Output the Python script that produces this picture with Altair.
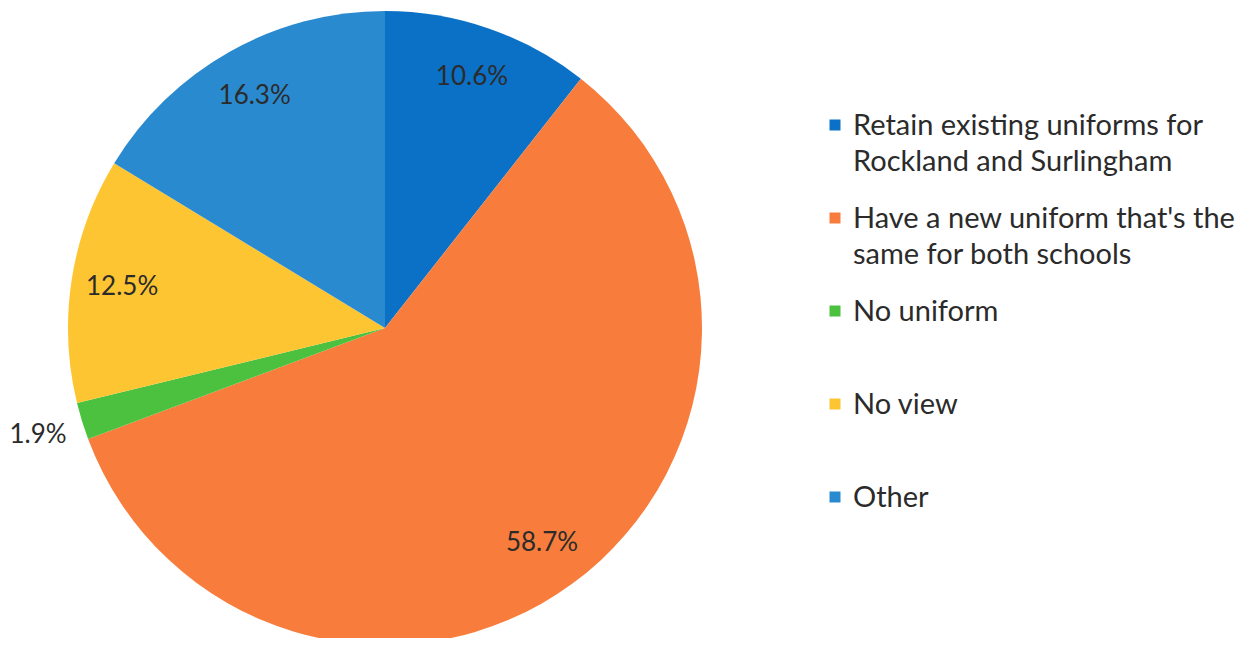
import altair as alt
import pandas as pd

categories = [
    "Retain existing uniforms for\nRockland and Surlingham",
    "Have a new uniform that's the\nsame for both schools",
    "No uniform",
    "No view",
    "Other",
]
shares = [10.6, 58.7, 1.9, 12.5, 16.3]
pct_labels = ["10.6%", "58.7%", "1.9%", "12.5%", "16.3%"]
colors = ["#0b71c6", "#f87d3c", "#4cc13f", "#fdc531", "#2a8ad0"]

df = pd.DataFrame({
    "category": categories,
    "share": shares,
    "label": pct_labels,
    "order": list(range(len(categories))),
})

FONT = "Lato"
TEXT_COLOR = "#2b2b2b"

color_enc = alt.Color(
    "category:N",
    scale=alt.Scale(domain=categories, range=colors),
    legend=None,
)

base = alt.Chart(df)

arcs = base.mark_arc(radius=317, clip=True).encode(
    theta=alt.Theta("share:Q", stack=True),
    order=alt.Order("order:Q"),
    color=color_enc,
    x=alt.value(377),
    y=alt.value(320),
)

labels = base.transform_window(
    cum="sum(share)", sort=[alt.SortField("order")]
).transform_joinaggregate(
    total="sum(share)"
).transform_calculate(
    t="2 * PI * (datum.cum - datum.share / 2) / datum.total",
    r="datum.share < 5 ? 363 : 266",
).mark_text(
    font=FONT, fontSize=26, color=TEXT_COLOR, align="center", baseline="middle"
).encode(
    theta=alt.Theta("t:Q", scale=None, stack=None),
    radius=alt.Radius("r:Q", scale=None),
    text="label:N",
    x=alt.value(377),
    y=alt.value(320),
)

pie = alt.layer(arcs, labels).properties(width=720, height=630)

ypos = alt.Y(
    "category:N",
    sort=categories,
    scale=alt.Scale(type="point", domain=categories, range=[117, 489], padding=0),
    axis=None,
)

squares = base.mark_square(size=121, opacity=1).encode(
    x=alt.value(107),
    y=ypos,
    color=color_enc,
)

leg_text = base.mark_text(
    font=FONT, fontSize=29, color=TEXT_COLOR, align="left",
    baseline="alphabetic", dy=10, lineBreak="\n", lineHeight=36,
).encode(
    x=alt.value(125),
    y=ypos,
    text="category:N",
)

legend = alt.layer(squares, leg_text).properties(width=420, height=630)

chart = (
    alt.hconcat(pie, legend, spacing=0)
    .properties(padding=0, background="white")
    .configure_view(stroke=None)
)

chart.save("out.html", embed_options={"renderer": "svg", "actions": False})
